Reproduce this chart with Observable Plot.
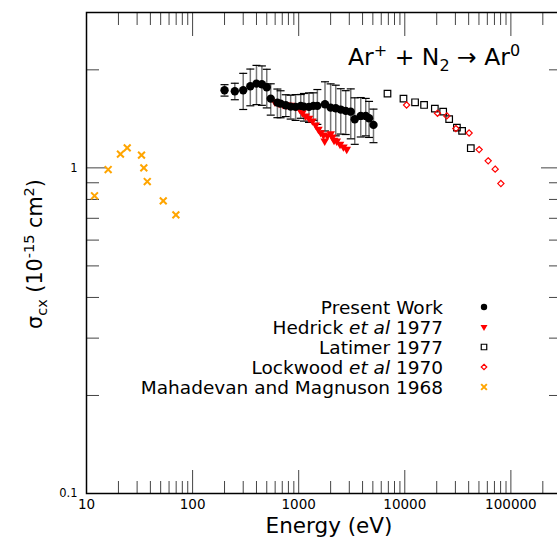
<!DOCTYPE html>
<html><head><meta charset="utf-8">
<script src="https://cdn.jsdelivr.net/npm/d3@7"></script>
<script src="https://cdn.jsdelivr.net/npm/@observablehq/plot@0.6"></script>
<style>
html,body{margin:0;padding:0;overflow:hidden;background:#fff;width:557px;height:538px}
#chart svg{max-width:none;display:block}
</style>
</head><body><div id="chart"></div>
<script>
// ---- data ----
const presentE   = [200, 250, 300, 350, 400, 450, 500, 545, 630, 675, 755, 840, 935, 1045, 1120, 1250, 1375, 1500, 1770, 2000, 2235, 2490, 2775, 3095, 3375, 3845, 4285, 4605, 5070];
const presentS   = [1.731, 1.719, 1.731, 1.781, 1.814, 1.806, 1.768, 1.632, 1.586, 1.575, 1.557, 1.542, 1.539, 1.550, 1.542, 1.539, 1.550, 1.550, 1.568, 1.531, 1.524, 1.510, 1.496, 1.488, 1.411, 1.444, 1.444, 1.420, 1.355];
const presentErr = [0.07, 0.10, 0.22, 0.23, 0.25, 0.25, 0.24, 0.18, 0.16, 0.15, 0.12, 0.13, 0.14, 0.13, 0.15, 0.16, 0.15, 0.19, 0.27, 0.28, 0.27, 0.24, 0.23, 0.26, 0.23, 0.20, 0.19, 0.18, 0.16];

const hedrickE = [594, 652, 711, 770, 841, 937, 1022, 1084, 1164, 1251, 1347, 1447, 1534, 1613, 1710, 1759, 1866, 2004, 2079, 2153, 2283, 2452, 2640, 2837];
const hedrickS = [1.597, 1.579, 1.564, 1.560, 1.557, 1.539, 1.514, 1.477, 1.444, 1.420, 1.394, 1.355, 1.314, 1.283, 1.262, 1.210, 1.254, 1.274, 1.245, 1.216, 1.210, 1.182, 1.160, 1.141];

const latimerE = [6870, 9720, 12500, 15200, 19200, 23000, 26200, 31000, 34700, 41900];
const latimerS = [1.690, 1.632, 1.590, 1.560, 1.520, 1.488, 1.411, 1.329, 1.299, 1.149];

const lockwoodE = [10400, 20350, 24900, 30300, 40400, 50200, 61100, 71100, 80500];
const lockwoodS = [1.560, 1.472, 1.444, 1.320, 1.280, 1.138, 1.051, 0.991, 0.895];

const mahadevanE = [11.9, 16.0, 20.9, 24.2, 33.0, 34.7, 37.4, 52.9, 69.6];
const mahadevanS = [0.821, 0.988, 1.102, 1.152, 1.094, 1.000, 0.908, 0.792, 0.717];

const xTickValues = [10, 100, 1000, 10000, 100000];
const xTickLabels = ["10", "100", "1000", "10000", "100000"];
const yTickValues = [0.1, 1];
const yTickLabels = ["0.1", "1"];

const legendNames = [
  ["Present Work"],
  ["Hedrick ", {i: "et al"}, " 1977"],
  ["Latimer 1977"],
  ["Lockwood ", {i: "et al"}, " 1970"],
  ["Mahadevan and Magnuson 1968"]
];

// ---- build tables ----
const present = presentE.map((e, i) => ({e, s: presentS[i], lo: presentS[i] - presentErr[i], hi: presentS[i] + presentErr[i]}));
const hedrick = hedrickE.map((e, i) => ({e, s: hedrickS[i]}));
const latimer = latimerE.map((e, i) => ({e, s: latimerS[i]}));
const lockwood = lockwoodE.map((e, i) => ({e, s: lockwoodS[i]}));
const mahadevan = mahadevanE.map((e, i) => ({e, s: mahadevanS[i]}));

const xMinor = [];
for (const d of [10, 100, 1000, 10000, 100000]) for (let k = 2; k <= 9; k++) if (d * k < 290000) xMinor.push(d * k);
const yMinor = [0.2, 0.3, 0.4, 0.5, 0.6, 0.7, 0.8, 0.9, 2];

const capSymbol = {draw(ctx, size) { const r = Math.sqrt(size / Math.PI); ctx.moveTo(-r, 0); ctx.lineTo(r, 0); }};

const W = 562, H = 538;
const tickColor = "#444";
const noText = () => "";

const plot = Plot.plot({
  width: W, height: H,
  marginLeft: 86, marginRight: 1, marginTop: 12, marginBottom: 45,
  style: {fontFamily: "DejaVu Sans", background: "white", color: "black"},
  x: {type: "log", domain: [10, 300000], label: null},
  y: {type: "log", domain: [0.1, 3], label: null},
  marks: [
    // ticks (inward)
    Plot.axisX(xTickValues, {anchor: "bottom", tickSize: -23, tickFormat: noText, stroke: tickColor, label: null}),
    Plot.axisX(xMinor, {anchor: "bottom", tickSize: -12, tickFormat: noText, stroke: tickColor, label: null}),
    Plot.axisX(xTickValues, {anchor: "top", tickSize: -23, tickFormat: noText, stroke: tickColor, label: null}),
    Plot.axisX(xMinor, {anchor: "top", tickSize: -12, tickFormat: noText, stroke: tickColor, label: null}),
    Plot.axisY(yTickValues, {anchor: "left", tickSize: -21, tickFormat: noText, stroke: tickColor, label: null}),
    Plot.axisY(yMinor, {anchor: "left", tickSize: -13, tickFormat: noText, stroke: tickColor, label: null}),
    Plot.axisY(yTickValues, {anchor: "right", tickSize: -21, tickFormat: noText, stroke: tickColor, label: null}),
    Plot.axisY(yMinor, {anchor: "right", tickSize: -13, tickFormat: noText, stroke: tickColor, label: null}),
    // tick labels
    Plot.axisX(xTickValues, {anchor: "bottom", tickSize: 0, tickPadding: 6, fontSize: 13.5, tickFormat: (d) => xTickLabels[xTickValues.indexOf(d)], label: null}),
    Plot.axisY(yTickValues, {anchor: "left", tickSize: 0, tickPadding: 9, fontSize: 11.5, tickFormat: (d) => yTickLabels[yTickValues.indexOf(d)], label: null}),
    Plot.frame({stroke: "black", strokeWidth: 1.5}),
    // data
    Plot.ruleX(present, {x: "e", y1: "lo", y2: "hi", stroke: "#777", strokeWidth: 1.5}),
    Plot.dot(present, {x: "e", y: "lo", symbol: capSymbol, r: 4, stroke: "black", strokeWidth: 1.2, fill: "none"}),
    Plot.dot(present, {x: "e", y: "hi", symbol: capSymbol, r: 4, stroke: "black", strokeWidth: 1.2, fill: "none"}),
    Plot.dot(hedrick, {x: "e", y: "s", symbol: "triangle", rotate: 180, r: 3.2, fill: "red", stroke: "none"}),
    Plot.dot(present, {x: "e", y: "s", symbol: "circle", r: 4.2, fill: "black", stroke: "none"}),
    Plot.dot(latimer, {x: "e", y: "s", symbol: "square", r: 3.7, fill: "none", stroke: "black", strokeWidth: 1.2}),
    Plot.dot(lockwood, {x: "e", y: "s", symbol: "diamond2", r: 2.8, fill: "none", stroke: "red", strokeWidth: 1.2}),
    Plot.dot(mahadevan, {x: "e", y: "s", symbol: "times", r: 3.2, stroke: "orange", strokeWidth: 2})
  ]
});

document.getElementById("chart").append(plot);

const svg = d3.select(plot);
const font = "DejaVu Sans";

// title
const title = svg.append("text").attr("x", 348).attr("y", 65).attr("text-anchor", "start")
  .attr("font-family", font).attr("font-size", 23.5).attr("fill", "black");
title.append("tspan").text("Ar");
title.append("tspan").attr("dy", -9).attr("font-size", 16).text("+");
title.append("tspan").attr("dy", 9).text(" + N");
title.append("tspan").attr("dy", 6).attr("font-size", 16).text("2");
title.append("tspan").attr("dy", -6).text(" \u2192 Ar");
title.append("tspan").attr("dy", -9).attr("font-size", 16).text("0");

// x label
svg.append("text").attr("x", 329).attr("y", 533).attr("text-anchor", "middle")
  .attr("font-family", font).attr("font-size", 21.5).attr("fill", "black").text("Energy (eV)");

// y label
const yl = svg.append("text").attr("transform", "translate(42,254) rotate(-90)").attr("text-anchor", "middle")
  .attr("font-family", font).attr("font-size", 20.7).attr("fill", "black");
yl.append("tspan").text("\u03c3");
yl.append("tspan").attr("dy", 5).attr("font-size", 14.5).text("cx");
yl.append("tspan").attr("dy", -5).text(" (10");
yl.append("tspan").attr("dy", -8).attr("font-size", 14.5).text("-15");
yl.append("tspan").attr("dy", 8).text(" cm");
yl.append("tspan").attr("dy", -8).attr("font-size", 14.5).text("2");
yl.append("tspan").attr("dy", 8).text(")");

// legend
const legX = 443, legSymX = 484, legY0 = 307, legDy = 20;
const legSymbols = [
  {type: d3.symbolCircle, size: Math.PI * 3.2 * 3.2, fill: "black", stroke: "none", rot: 0, sw: 0},
  {type: d3.symbolTriangle, size: Math.PI * 2.6 * 2.6, fill: "red", stroke: "none", rot: 180, sw: 0},
  {type: d3.symbolSquare, size: Math.PI * 3.1 * 3.1, fill: "none", stroke: "black", rot: 0, sw: 1.2},
  {type: d3.symbolDiamond2, size: Math.PI * 2.5 * 2.5, fill: "none", stroke: "red", rot: 0, sw: 1.2},
  {type: d3.symbolTimes, size: Math.PI * 2.7 * 2.7, fill: "none", stroke: "orange", rot: 0, sw: 2}
];
legendNames.forEach((parts, i) => {
  const y = legY0 + i * legDy;
  const t = svg.append("text").attr("x", legX).attr("y", y).attr("dy", "0.36em").attr("text-anchor", "end")
    .attr("font-family", font).attr("font-size", 18.5).attr("fill", "black");
  parts.forEach(p => {
    if (typeof p === "string") t.append("tspan").text(p);
    else t.append("tspan").attr("font-style", "italic").text(p.i);
  });
  const s = legSymbols[i];
  svg.append("path").attr("d", d3.symbol(s.type, s.size)())
    .attr("transform", `translate(${legSymX},${y}) rotate(${s.rot})`)
    .attr("fill", s.fill).attr("stroke", s.stroke).attr("stroke-width", s.sw);
});
</script>
</body></html>
